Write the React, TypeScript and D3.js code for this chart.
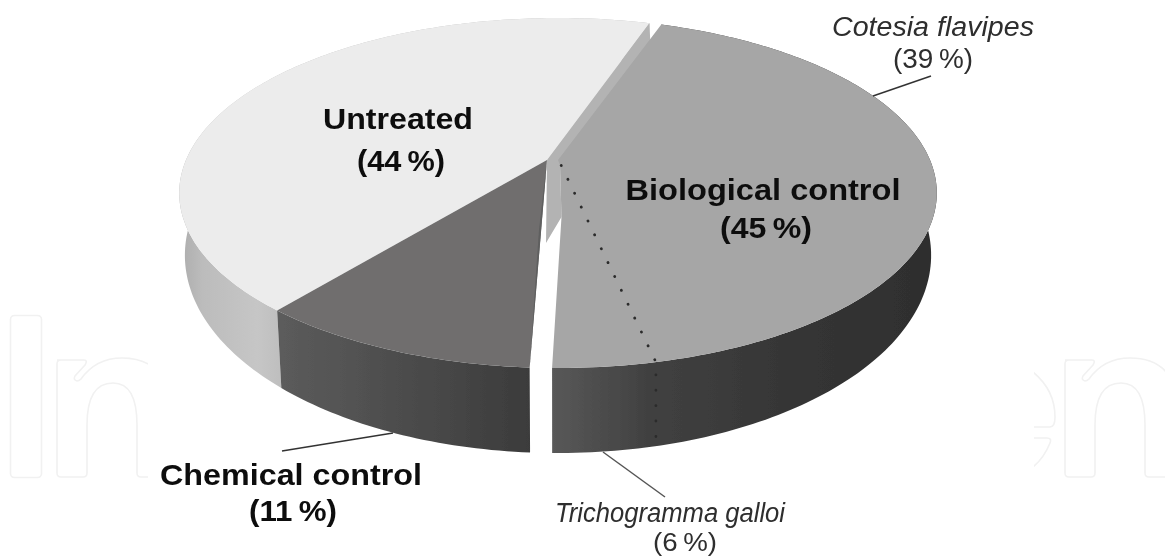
import React from "react";
import * as d3 from "d3";

// Printed labels
const sliceLabels = ["Biological control", "Chemical control", "Untreated"];
const slicePercents = ["(45\u2009%)", "(11\u2009%)", "(44\u2009%)"];
const subLabels = ["Cotesia flavipes", "Trichogramma galloi"];
const subPercents = ["(39\u2009%)", "(6\u2009%)"];

// Drawn sweep of each piece, % of the turn (clockwise from the start angle)
const pieceNames = ["cotesia", "trichogramma", "gapA", "chemical", "untreated", "gapB"];
const pieceShares = [41.25, 3.65, 0.78, 10.2, 43.5, 0.62];

const W = 1165, H = 559;
const deg = Math.PI / 180;
const START = 19.1 * deg;
const cx = 558, cy = 160, R = 372, Rs = 168.8, k = 0.1886;
const botFx = 0.985, botFy = 1.13, botDy = 58;

const arcs = d3.pie<number>().sort(null).startAngle(START).endAngle(START + 2 * Math.PI)(pieceShares);
const piece = (n: string) => arcs[pieceNames.indexOf(n)];

type Pt = [number, number];
const top = (a: number, r = 1): Pt => {
  const u = r * Math.sin(a), v = -r * Math.cos(a), w = 1 - k * v;
  return [cx + (R * u) / w, cy + (Rs * v) / w];
};
const bottom = (a: number): Pt => {
  const [x, y] = top(a);
  return [cx + (x - cx) * botFx, cy + botDy + (y - cy) * botFy];
};
const angles = (a0: number, a1: number) => {
  const n = Math.max(2, Math.ceil(Math.abs(a1 - a0) / (1 * deg)));
  return d3.range(n + 1).map((i) => a0 + ((a1 - a0) * i) / n);
};
const line = d3.line<Pt>();
const poly = (pts: Pt[]) => line(pts)! + "Z";
const wall = (a0: number, a1: number) => poly([...angles(a0, a1).map((a) => top(a)), ...angles(a1, a0).map(bottom)]);

const bioStart = piece("cotesia").startAngle;
const bioEnd = piece("trichogramma").endAngle;
const dotAngle = piece("trichogramma").startAngle;
const chemStart = piece("chemical").startAngle;
const chemEnd = piece("chemical").endAngle;
const untStart = piece("untreated").startAngle;
const untEnd = piece("untreated").endAngle;

// apex of the two left slices and of the notched cut faces
const leftApex: Pt = [cx - 11, cy];
const tipU = top(untEnd);
const notch: Pt = [tipU[0] + 1, tipU[1] + 22];
const gapTop: Pt = [cx + 3.5, cy + 57];
const stripFoot: Pt = [leftApex[0] - 1, cy + 83];

const bioTop = poly([[cx, cy], ...angles(bioStart, bioEnd).map((a) => top(a)), gapTop, [cx + 2, cy + 5]]);
const chemTop = poly([leftApex, ...angles(chemStart, chemEnd).map((a) => top(a))]);
const untTop = poly([leftApex, ...angles(untStart, untEnd).map((a) => top(a))]);
const strip = poly([leftApex, tipU, notch, [cx + 2, cy + 5], gapTop, stripFoot]);

const dotRim = top(dotAngle);
const dotPath = line([[cx + 0.6, cy], dotRim, [dotRim[0], bottom(dotAngle)[1]]])!;

const nOutline =
  "M57,360 L84,360 Q88,360 85,365 L75,376 Q73,380 77,381 Q79,381 81,379 Q96,358 122,358 Q172,358 172,420 L172,473 Q172,477 168,477 L141,477 Q137,477 137,473 L137,425 Q137,383 113,383 Q87,383 87,425 L87,473 Q87,477 83,477 L61,477 Q57,477 57,473 L57,364 Q57,360 61,360Z";

const boldFont = "'Liberation Sans', Arial, sans-serif";

function Label({ x, y, w, size, weight, italic, fill, children }: any) {
  return (
    <text x={x} y={y} textAnchor="middle" fontFamily={boldFont} fontSize={size} fontWeight={weight}
      fontStyle={italic ? "italic" : "normal"} fill={fill}
      textLength={w} lengthAdjust="spacingAndGlyphs">
      {children}
    </text>
  );
}

export default function App() {
  return (
    <svg width={W} height={H} viewBox={`0 0 ${W} ${H}`} style={{ position: "absolute", left: 0, top: 0, background: "#fff" }}>
      <defs>
        <linearGradient id="gU" gradientUnits="userSpaceOnUse" x1={175} x2={285} y1={0} y2={0}>
          <stop offset="0" stopColor="#a9a9a9" />
          <stop offset="0.25" stopColor="#bcbcbc" />
          <stop offset="0.75" stopColor="#c6c6c6" />
          <stop offset="1" stopColor="#bdbdbd" />
        </linearGradient>
        <linearGradient id="gC" gradientUnits="userSpaceOnUse" x1={275} x2={532} y1={0} y2={0}>
          <stop offset="0" stopColor="#5c5c5c" />
          <stop offset="0.5" stopColor="#4c4c4c" />
          <stop offset="1" stopColor="#3b3b3b" />
        </linearGradient>
        <linearGradient id="gB" gradientUnits="userSpaceOnUse" x1={553} x2={930} y1={0} y2={0}>
          <stop offset="0" stopColor="#585858" />
          <stop offset="0.25" stopColor="#414141" />
          <stop offset="0.6" stopColor="#363636" />
          <stop offset="1" stopColor="#2e2e2e" />
        </linearGradient>
        <filter id="soft" x="-5%" y="-5%" width="110%" height="110%">
          <feGaussianBlur stdDeviation="0.7" />
        </filter>
        <filter id="softText" x="-5%" y="-5%" width="110%" height="110%">
          <feGaussianBlur stdDeviation="0.45" />
        </filter>
        <clipPath id="wmL"><rect x={0} y={0} width={148} height={H} /></clipPath>
        <clipPath id="wmR"><rect x={1034} y={0} width={131} height={H} /></clipPath>
      </defs>

      {/* watermark */}
      <g fill="none" stroke="#f1f1f1" strokeWidth={1.6}>
        <rect x={10.5} y={315.5} width={31} height={162} rx={4} />
        <g clipPath="url(#wmL)"><path d={nOutline} /></g>
        <g clipPath="url(#wmR)">
          <path d={nOutline} transform="translate(1008,0)" />
          <path d="M1033,372 Q1055,390 1055,417 Q1055,427 1050,427 L1033,427" />
          <path d="M1033,438 L1047,438 Q1052,438 1050,443 Q1044,458 1033,467" />
        </g>
      </g>

      <g filter="url(#soft)">
        {/* side walls */}
        <path d={wall(untStart, untEnd)} fill="url(#gU)" />
        <path d={wall(chemStart, chemEnd)} fill="url(#gC)" />
        <path d={wall(bioStart, bioEnd)} fill="url(#gB)" />
        {/* top faces */}
        <path d={untTop} fill="#ececec" />
        <path d={chemTop} fill="#6f6e6e" />
        <path d={poly([leftApex, top(chemStart), [leftApex[0] - 8, cy + 70]])} fill="#5f5f5f" />
        <path d={strip} fill="#b3b3b3" />
        <path d={bioTop} fill="#a6a6a6" />
      </g>

      {/* sub-division of the biological slice */}
      <path d={dotPath} fill="none" stroke="#2b2b2b" strokeWidth={2.8} strokeLinecap="round" strokeDasharray="0.1 15.3" strokeDashoffset={-6} />

      <g filter="url(#softText)">
        {/* leader lines */}
        <g stroke="#333" strokeWidth={1.5} fill="none">
          <line x1={873} y1={96} x2={931} y2={76} />
          <line x1={282} y1={451} x2={393} y2={433} />
          <line x1={603} y1={452} x2={665} y2={497} stroke="#555" />
        </g>

        {/* labels */}
        <Label x={398} y={129} w={150} size={30} weight={700} fill="#111">{sliceLabels[2]}</Label>
        <Label x={401} y={171} w={88} size={30} weight={700} fill="#111">{slicePercents[2]}</Label>
        <Label x={763} y={200} w={275} size={30} weight={700} fill="#111">{sliceLabels[0]}</Label>
        <Label x={766} y={238} w={92} size={30} weight={700} fill="#111">{slicePercents[0]}</Label>
        <Label x={291} y={485} w={262} size={30} weight={700} fill="#111">{sliceLabels[1]}</Label>
        <Label x={293} y={521} w={88} size={30} weight={700} fill="#111">{slicePercents[1]}</Label>
        <Label x={933} y={36} w={202} size={27} italic fill="#2e2e2e">{subLabels[0]}</Label>
        <Label x={933} y={68} w={80} size={27} fill="#2e2e2e">{subPercents[0]}</Label>
        <Label x={670} y={522} w={230} size={27} italic fill="#2e2e2e">{subLabels[1]}</Label>
        <Label x={685} y={551} w={64} size={26} fill="#2e2e2e">{subPercents[1]}</Label>
      </g>
    </svg>
  );
}
